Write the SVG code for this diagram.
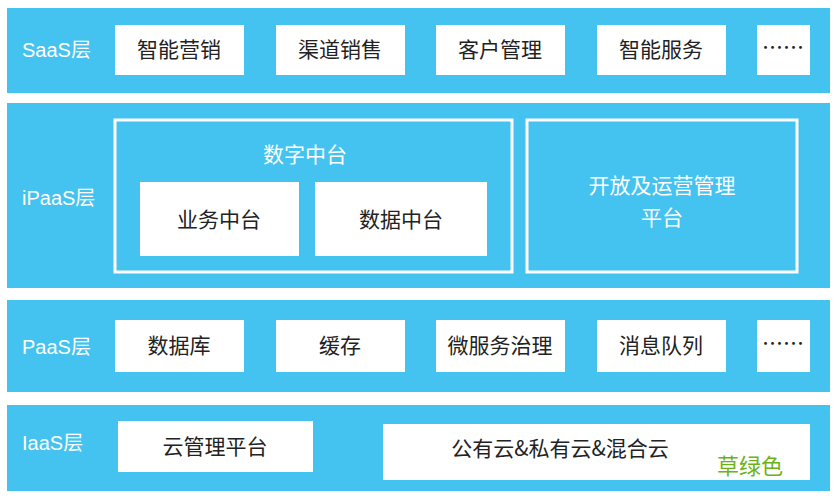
<svg xmlns="http://www.w3.org/2000/svg" width="837" height="500" viewBox="0 0 837 500">
<style>
.band{fill:#45c3f0}
.box{fill:#fff}
.ol{fill:none;stroke:#fff;stroke-width:3}
text{font-family:"Noto Sans CJK SC","Liberation Sans",sans-serif;font-size:21px}
.lab{fill:#fff;font-family:"Liberation Sans","Noto Sans CJK SC",sans-serif;font-size:20px}
.t{fill:#222;text-anchor:middle}
.w{fill:#fff;text-anchor:middle}
</style>
<rect width="837" height="500" fill="#fff"/>
<g id="saas">
<rect class="band" x="7" y="8" width="823" height="85"/>
<text class="lab" x="22" y="57">SaaS层</text>
<rect class="box" x="115" y="25" width="129" height="50"/><text class="t" x="179" y="57">智能营销</text>
<rect class="box" x="276" y="25" width="129" height="50"/><text class="t" x="340" y="57">渠道销售</text>
<rect class="box" x="436" y="25" width="129" height="50"/><text class="t" x="500" y="57">客户管理</text>
<rect class="box" x="597" y="25" width="129" height="50"/><text class="t" x="661" y="57">智能服务</text>
<rect class="box" x="757" y="25" width="53" height="50"/><text class="t" x="783" y="55">……</text>
</g>
<g id="ipaas">
<rect class="band" x="7" y="103" width="823" height="185"/>
<text class="lab" x="22" y="205">iPaaS层</text>
<rect class="ol" x="115" y="120" width="397" height="152"/>
<text class="w" x="305" y="162">数字中台</text>
<rect class="box" x="140" y="182" width="159" height="74"/><text class="t" x="219" y="227">业务中台</text>
<rect class="box" x="315" y="182" width="172" height="74"/><text class="t" x="401" y="227">数据中台</text>
<rect class="ol" x="527" y="120" width="270" height="152"/>
<text class="w" x="662" y="193">开放及运营管理</text>
<text class="w" x="662" y="225">平台</text>
</g>
<g id="paas">
<rect class="band" x="7" y="300" width="823" height="92"/>
<text class="lab" x="22" y="354">PaaS层</text>
<rect class="box" x="115" y="320" width="129" height="52"/><text class="t" x="179" y="353">数据库</text>
<rect class="box" x="276" y="320" width="129" height="52"/><text class="t" x="340" y="353">缓存</text>
<rect class="box" x="436" y="320" width="129" height="52"/><text class="t" x="500" y="353">微服务治理</text>
<rect class="box" x="597" y="320" width="129" height="52"/><text class="t" x="661" y="353">消息队列</text>
<rect class="box" x="757" y="320" width="53" height="52"/><text class="t" x="783" y="351">……</text>
</g>
<g id="iaas">
<rect class="band" x="7" y="405" width="823" height="86"/>
<text class="lab" x="22" y="450">IaaS层</text>
<rect class="box" x="118" y="421" width="195" height="51"/><text class="t" x="215" y="454">云管理平台</text>
<rect class="box" x="383" y="424" width="427" height="56"/><text class="t" x="560" y="456">公有云&amp;私有云&amp;混合云</text>
<text x="717" y="474" style="fill:#6cb31a;font-size:22px">草绿色</text>
</g>
<g id="connectors"/>
</svg>
